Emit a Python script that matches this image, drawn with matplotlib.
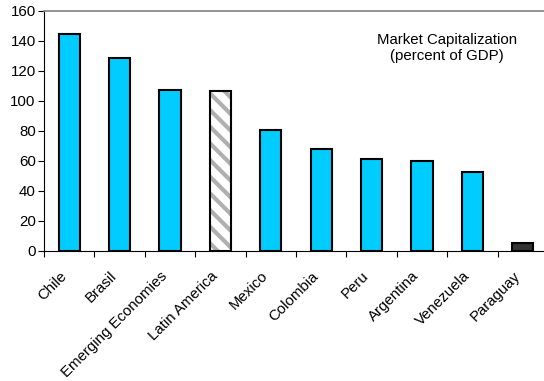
import matplotlib
matplotlib.use("Agg")
import matplotlib.pyplot as plt
from matplotlib.transforms import ScaledTranslation, blended_transform_factory

categories = ["Chile", "Brasil", "Emerging Economies", "Latin America", "Mexico",
              "Colombia", "Peru", "Argentina", "Venezuela", "Paraguay"]
values = [144.5, 128.4, 107.1, 106.4, 80.7, 67.8, 61.3, 59.8, 52.7, 5.1]
yticks = [0, 20, 40, 60, 80, 100, 120, 140, 160]

plt.rcParams['font.family'] = ['Liberation Sans', 'DejaVu Sans']
plt.rcParams['hatch.linewidth'] = 3.0

FS = 10.8

fig = plt.figure(figsize=(5.44, 3.81), dpi=100)
ax = fig.add_axes([44/544, 1 - 251/381, 504/544, 240/381])

x = list(range(len(categories)))
for i, (c, v) in enumerate(zip(categories, values)):
    if c == "Latin America":
        ax.bar(i, v, width=0.42, color='white', edgecolor='#B0B0B0', hatch='\\\\', linewidth=0, zorder=2)
        ax.bar(i, v, width=0.42, fill=False, edgecolor='black', linewidth=1.5, zorder=3)
    elif c == "Paraguay":
        ax.bar(i, v, width=0.42, color='#333333', edgecolor='black', linewidth=1.5, zorder=3)
    else:
        ax.bar(i, v, width=0.42, color='#00CCFF', edgecolor='black', linewidth=1.5, zorder=3)

ax.set_xlim(-0.5, len(categories) - 0.5)
ax.set_ylim(0, 160)
ax.set_yticks(yticks)
ax.set_yticklabels([str(t) for t in yticks], fontsize=FS)
ax.set_xticks([i + 0.5 for i in range(-1, len(categories) - 1)])
ax.set_xticklabels([])
ax.tick_params(axis='x', length=4, direction='out', width=0.8)
ax.tick_params(axis='y', length=4, direction='out', width=0.8, pad=2)

trans = blended_transform_factory(ax.transData, ax.transAxes) + \
    ScaledTranslation(-10/100, -18/100, fig.dpi_scale_trans)
for i, c in enumerate(categories):
    ax.text(i, 0, c, transform=trans, rotation=45, rotation_mode='anchor',
            ha='right', va='top', fontsize=FS, clip_on=False)

ax.spines['right'].set_visible(False)
ax.spines['top'].set_color('#808080')
ax.spines['top'].set_linewidth(1.2)
ax.spines['left'].set_color('black')
ax.spines['bottom'].set_color('black')

ax.text(0.80, 0.846, "Market Capitalization\n(percent of GDP)", transform=ax.transAxes,
        ha='center', va='center', fontsize=FS, linespacing=1.2)

fig.savefig("out.png", dpi=100)
